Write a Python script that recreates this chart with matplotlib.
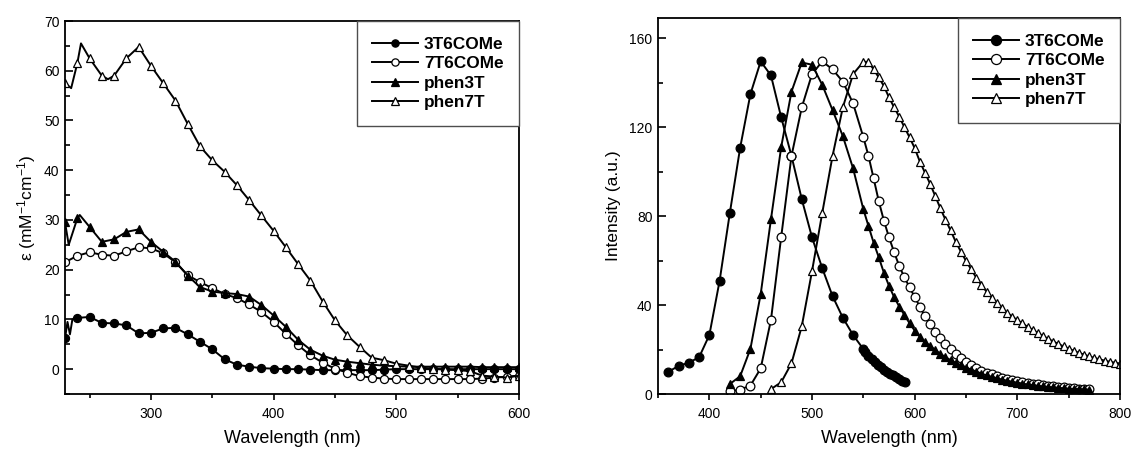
import numpy as np
import matplotlib
matplotlib.use('Agg')
import matplotlib.pyplot as plt
from matplotlib.ticker import MultipleLocator

plt.rcParams['font.family'] = ['Liberation Sans', 'DejaVu Sans']
plt.rcParams['mathtext.default'] = 'regular'

nombres = ['3T6COMe', '7T6COMe', 'phen3T', 'phen7T']

# ---- Absorcion (epsilon, mM-1 cm-1) ----
abs_wl_3T6COMe = [230, 232, 234, 236, 240, 250, 260, 270, 280, 290, 300, 310, 320, 330, 340, 350,
                  360, 370, 380, 390, 400, 410, 420, 430, 440, 450, 460, 470, 480, 490, 500,
                  510, 520, 530, 540, 550, 560, 570, 580, 590, 600]
abs_3T6COMe = [6.2, 9.5, 7.0, 10.0, 10.3, 10.5, 9.3, 9.2, 8.8, 7.2, 7.3, 8.2, 8.3, 7.0, 5.5, 4.0,
               2.0, 0.9, 0.5, 0.2, 0.1, 0.0, 0.0, -0.1, -0.2, -0.2, -0.2, -0.2, -0.2, -0.1, 0.0,
               0.0, 0.0, 0.0, 0.0, 0.0, 0.0, 0.0, 0.0, 0.0, 0.0]

abs_wl_7T6COMe = [230, 240, 250, 260, 270, 280, 290, 300, 310, 320, 330, 340, 350, 360, 370, 380,
                  390, 400, 410, 420, 430, 440, 450, 460, 470, 480, 490, 500, 510, 520, 530,
                  540, 550, 560, 570, 580, 590, 600]
abs_7T6COMe = [21.5, 22.8, 23.5, 23.0, 22.8, 23.7, 24.5, 24.3, 23.3, 21.5, 18.9, 17.5, 16.3, 15.1,
               14.3, 13.0, 11.5, 9.5, 7.1, 4.8, 2.8, 1.3, 0.1, -0.7, -1.4, -1.7, -1.9, -2.0, -2.0,
               -2.0, -2.0, -2.0, -2.0, -2.0, -1.9, -1.7, -1.5, -1.3]

abs_wl_phen3T = [230, 233, 240, 242, 250, 260, 270, 280, 290, 300, 310, 320, 330, 340, 350, 360,
                 370, 380, 390, 400, 410, 420, 430, 440, 450, 460, 470, 480, 490, 500, 510,
                 520, 530, 540, 550, 560, 570, 580, 590, 600]
abs_phen3T = [29.5, 25.0, 30.3, 31.0, 28.6, 25.6, 26.1, 27.6, 28.1, 25.6, 23.6, 21.6, 18.8, 16.5,
              15.6, 15.3, 15.1, 14.6, 12.9, 10.8, 8.5, 5.9, 3.9, 2.7, 1.9, 1.5, 1.2, 0.9, 0.7,
              0.6, 0.5, 0.5, 0.5, 0.5, 0.5, 0.5, 0.4, 0.4, 0.4, 0.4]

abs_wl_phen7T = [230, 235, 240, 243, 250, 260, 265, 270, 280, 290, 300, 310, 320, 330, 340, 350,
                 360, 370, 380, 390, 400, 410, 420, 430, 440, 450, 460, 470, 480, 490, 500,
                 510, 520, 530, 540, 550, 560, 570, 580, 590, 600]
abs_phen7T = [57.5, 56.5, 61.5, 65.5, 62.5, 59.0, 58.3, 59.0, 62.5, 64.8, 61.0, 57.5, 54.0, 49.3,
              44.8, 42.0, 39.7, 37.0, 34.0, 30.9, 27.8, 24.5, 21.1, 17.8, 13.6, 9.8, 6.8, 4.5,
              2.3, 1.8, 1.1, 0.7, 0.3, 0.1, -0.1, -0.2, -0.4, -1.3, -1.5, -1.7, -1.3]

# ---- Emision (intensidad, u.a.) ----
pl_wl_3T6COMe = [360, 370, 380, 390, 400, 410, 420, 430, 440, 450, 460, 470, 480, 490, 500, 510,
                 520, 530, 540, 550, 552, 555, 558, 561, 564, 567, 570, 573, 576, 579, 582,
                 585, 588, 591]
pl_3T6COMe = [10.0, 12.6, 14.1, 16.5, 26.5, 50.9, 81.5, 110.7, 134.8, 149.5, 143.2, 124.3, 107.0,
              87.6, 70.4, 56.5, 44.0, 34.3, 26.5, 20.2, 19.0, 17.3, 15.8, 14.4, 13.1, 12.0, 11.0,
              10.1, 9.2, 8.4, 7.6, 6.8, 6.0, 5.3]

pl_wl_7T6COMe = [420, 430, 440, 450, 460, 470, 480, 490, 500, 510, 520, 530, 540, 550] + \
                list(range(555, 771, 5))
pl_7T6COMe = [1.2, 2.0, 3.8, 11.5, 33.3, 70.7, 107.0, 128.8, 143.8, 149.5, 145.9, 140.4, 130.6,
              115.4, 107.0, 96.9, 86.7, 77.9, 70.4, 63.7, 57.5, 52.4, 48.0, 43.6, 39.3, 35.0,
              31.5, 28.0, 25.0, 22.5, 20.1, 18.0, 16.0, 14.3, 13.0, 11.5, 10.5, 9.6, 8.8, 8.1,
              7.4, 6.8, 6.3, 5.8, 5.4, 5.0, 4.6, 4.3, 4.0, 3.7, 3.4, 3.2, 3.0, 2.8, 2.6, 2.4,
              2.3, 2.2]

pl_wl_phen3T = [420, 430, 440, 450, 460, 470, 480, 490, 500, 510, 520, 530, 540, 550] + \
               list(range(555, 771, 5))
pl_phen3T = [4.5, 8.0, 20.3, 44.9, 78.5, 111.1, 135.9, 149.0, 148.0, 138.9, 127.6, 115.9, 101.4,
             83.0, 75.5, 68.0, 61.5, 54.5, 48.6, 43.5, 39.3, 35.5, 31.8, 28.5, 25.8, 23.5, 21.6,
             19.8, 18.0, 16.6, 15.2, 14.0, 12.9, 11.9, 11.0, 10.1, 9.2, 8.4, 7.7, 7.1, 6.5, 6.0,
             5.5, 5.1, 4.7, 4.3, 4.0, 3.7, 3.4, 3.2, 3.0, 2.8, 2.6, 2.4, 2.3, 2.2, 2.1, 2.0]

pl_wl_phen7T = [460, 470, 480, 490, 500, 510, 520, 530, 540, 550] + list(range(555, 801, 5))
pl_phen7T = [2.2, 5.3, 13.8, 30.4, 55.2, 81.5, 107.0, 128.8, 143.8, 149.3, 149.3, 145.9, 142.3,
             138.4, 133.3, 128.8, 124.6, 119.9, 115.4, 110.5, 104.5, 99.5, 94.5, 89.0, 83.5,
             78.3, 73.5, 68.4, 64.0, 59.8, 56.0, 52.3, 49.0, 46.0, 43.2, 40.7, 38.5, 36.5, 34.8,
             33.2, 31.7, 30.2, 28.8, 27.4, 26.1, 24.8, 23.6, 22.5, 21.4, 20.4, 19.4, 18.5, 17.7,
             16.9, 16.2, 15.6, 15.0, 14.5, 14.1, 13.7]

marcadores = [('o', 'black'), ('o', 'white'), ('^', 'black'), ('^', 'white')]


def serie(ax, wl, val, estilo, ms, cada10=False):
    mk, cara = estilo
    marcas = [w % 10 == 0 for w in wl] if cada10 else None
    ax.plot(wl, val, color='black', lw=1.4, marker=mk, ms=ms, mfc=cara, mec='black',
            mew=0.9, markevery=marcas)


def ejes(ax):
    for s in ax.spines.values():
        s.set_linewidth(1.3)
    ax.tick_params(axis='y', which='both', direction='in', width=1.2, labelsize=10, pad=4)
    ax.tick_params(axis='y', which='major', length=6)
    ax.tick_params(axis='y', which='minor', length=3.5)
    ax.tick_params(axis='x', which='both', direction='out', width=1.2, labelsize=10, pad=5)
    ax.tick_params(axis='x', which='major', length=4.5)
    ax.tick_params(axis='x', which='minor', length=3)
    ax.xaxis.set_minor_locator(MultipleLocator(50))
    ax.set_xlabel('Wavelength (nm)', fontsize=13, labelpad=6)


def leyenda(ax, escala):
    ax.legend(loc='upper right', borderaxespad=0, fancybox=False, framealpha=1,
              edgecolor='0.3', prop={'weight': 'bold', 'size': 12.4}, handlelength=2.65,
              handletextpad=0.35, borderpad=0.9, labelspacing=0.26, markerscale=escala)
    ax.get_legend().get_frame().set_linewidth(1.0)


fig = plt.figure(figsize=(11.31, 4.5), dpi=100)

# ---- Panel izquierdo: absorcion ----
ax1 = fig.add_axes([0.0575, 0.1244, 0.4014, 0.8289])
datos_abs = [(abs_wl_3T6COMe, abs_3T6COMe), (abs_wl_7T6COMe, abs_7T6COMe),
             (abs_wl_phen3T, abs_phen3T), (abs_wl_phen7T, abs_phen7T)]
for (wl, val), estilo, nom in zip(datos_abs, marcadores, nombres):
    serie(ax1, wl, val, estilo, 5.8, cada10=True)
    ax1.lines[-1].set_label(nom)
ax1.set_xlim(230, 600)
ax1.set_ylim(-5, 70)
ax1.xaxis.set_major_locator(MultipleLocator(100))
ax1.yaxis.set_major_locator(MultipleLocator(10))
ax1.yaxis.set_minor_locator(MultipleLocator(5))
ejes(ax1)
ax1.set_ylabel('ε (mM$^{-1}$cm$^{-1}$)', fontsize=12.5, labelpad=4)
leyenda(ax1, 0.9)

# ---- Panel derecho: emision ----
ax2 = fig.add_axes([0.5818, 0.1244, 0.4085, 0.8356])
datos_pl = [(pl_wl_3T6COMe, pl_3T6COMe), (pl_wl_7T6COMe, pl_7T6COMe),
            (pl_wl_phen3T, pl_phen3T), (pl_wl_phen7T, pl_phen7T)]
for (wl, val), estilo, nom in zip(datos_pl, marcadores, nombres):
    serie(ax2, wl, val, estilo, 6.3)
    ax2.lines[-1].set_label(nom)
ax2.set_xlim(350, 800)
ax2.set_ylim(0, 169)
ax2.xaxis.set_major_locator(MultipleLocator(100))
ax2.yaxis.set_major_locator(MultipleLocator(40))
ax2.yaxis.set_minor_locator(MultipleLocator(20))
ejes(ax2)
ax2.set_ylabel('Intensity (a.u.)', fontsize=12.5, labelpad=6)
leyenda(ax2, 1.15)

fig.savefig('out.png', dpi=100)
